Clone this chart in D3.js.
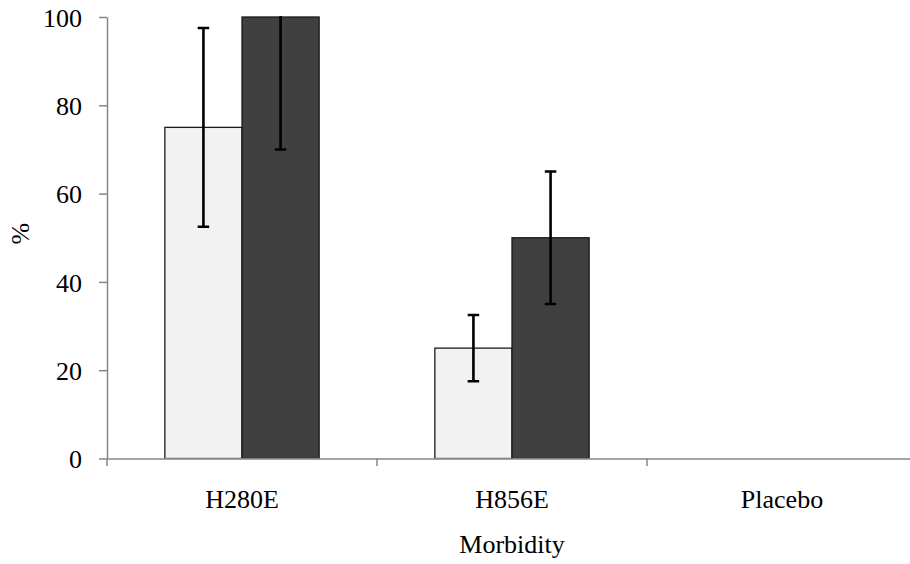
<!DOCTYPE html>
<html>
<head>
<meta charset="utf-8">
<script src="https://cdn.jsdelivr.net/npm/d3@7"></script>
<style>
  html, body { margin: 0; padding: 0; background: #fff; }
  svg { display: block; }
  text { font-family: "Liberation Serif", "Times New Roman", serif; fill: #000; }
</style>
</head>
<body>
<svg id="chart" width="910" height="564"></svg>
<script>
const categories = ["H280E", "H856E", "Placebo"];
const seriesNames = ["Group A", "Group B"];
const seriesA = [75, 25, 0];
const seriesB = [100, 50, 0];
const errorA = [22.5, 7.5, 0];
const errorB = [30, 15, 0];
const yTicks = [0, 20, 40, 60, 80, 100];
const fills = ["#f2f2f2", "#404040"];

const svg = d3.select("#chart");
const mLeft = 107, mRight = 917, mTop = 17, mBottom = 458.5;

const y = d3.scaleLinear().domain([0, 100]).range([mBottom, mTop]);
const x0 = d3.scaleBand().domain(categories).range([mLeft, mRight]).padding(0);
const x1 = d3.scaleBand().domain(seriesNames).range([0, x0.bandwidth()])
  .paddingInner(0).paddingOuter(0.75);

const data = categories.map((c, i) => ({
  cat: c,
  vals: [
    { s: seriesNames[0], v: seriesA[i], e: errorA[i], f: fills[0] },
    { s: seriesNames[1], v: seriesB[i], e: errorB[i], f: fills[1] }
  ]
}));

svg.append("defs").append("clipPath").attr("id", "plotclip")
  .append("rect").attr("x", mLeft).attr("y", mTop - 1)
  .attr("width", mRight - mLeft).attr("height", mBottom - mTop + 1);

const g = svg.append("g").attr("clip-path", "url(#plotclip)");
const groups = g.selectAll("g.grp").data(data).join("g")
  .attr("transform", d => `translate(${x0(d.cat)},0)`);

groups.selectAll("rect").data(d => d.vals.filter(v => v.v > 0)).join("rect")
  .attr("x", d => x1(d.s))
  .attr("y", d => y(d.v))
  .attr("width", x1.bandwidth())
  .attr("height", d => y(0) - y(d.v))
  .attr("fill", d => d.f)
  .attr("stroke", "#1a1a1a")
  .attr("stroke-width", 1.3);

const eb = groups.selectAll("g.err").data(d => d.vals.filter(v => v.e > 0)).join("g");
const capW = 11.5;
eb.append("line")
  .attr("x1", d => x1(d.s) + x1.bandwidth() / 2)
  .attr("x2", d => x1(d.s) + x1.bandwidth() / 2)
  .attr("y1", d => y(d.v - d.e))
  .attr("y2", d => y(d.v + d.e))
  .attr("stroke", "#000").attr("stroke-width", 2.6);
["lo", "hi"].forEach(k => {
  eb.append("line")
    .attr("x1", d => x1(d.s) + x1.bandwidth() / 2 - capW / 2)
    .attr("x2", d => x1(d.s) + x1.bandwidth() / 2 + capW / 2)
    .attr("y1", d => y(k === "lo" ? d.v - d.e : d.v + d.e))
    .attr("y2", d => y(k === "lo" ? d.v - d.e : d.v + d.e))
    .attr("stroke", "#000").attr("stroke-width", 2.6);
});

// Y axis
const yAxis = d3.axisLeft(y).tickValues(yTicks).tickSize(8).tickPadding(17).tickSizeOuter(0);
const ya = svg.append("g").attr("transform", `translate(${mLeft},0)`).call(yAxis);
ya.select(".domain").attr("stroke", "#868686").attr("stroke-width", 1.5);
ya.selectAll(".tick line").attr("stroke", "#868686").attr("stroke-width", 1.5);
ya.selectAll(".tick text").attr("font-size", 26).attr("font-family", "Liberation Serif")
  .attr("fill", "#000").attr("dy", "0.35em");

// X axis
const xAxis = d3.axisBottom(x0).tickSize(0).tickPadding(0).tickSizeOuter(0);
const xa = svg.append("g").attr("transform", `translate(0,${mBottom})`).call(xAxis);
xa.select(".domain").attr("stroke", "#868686").attr("stroke-width", 1.5);
xa.selectAll(".tick text").attr("font-size", 26).attr("font-family", "Liberation Serif")
  .attr("fill", "#000").attr("y", 49.5).attr("dy", 0);
xa.selectAll("line.bound").data(categories.map(c => x0(c)).concat([mRight])).join("line")
  .attr("class", "bound")
  .attr("x1", d => d).attr("x2", d => d)
  .attr("y1", 0).attr("y2", 7.5)
  .attr("stroke", "#868686").attr("stroke-width", 1.5);

// Axis titles
svg.append("text").attr("x", (mLeft + mRight) / 2).attr("y", 553)
  .attr("text-anchor", "middle").attr("font-size", 26).text("Morbidity");
svg.append("text")
  .attr("transform", `translate(29,${(mTop + mBottom) / 2 - 4}) rotate(-90)`)
  .attr("text-anchor", "middle").attr("font-size", 26).text("%");
</script>
</body>
</html>
